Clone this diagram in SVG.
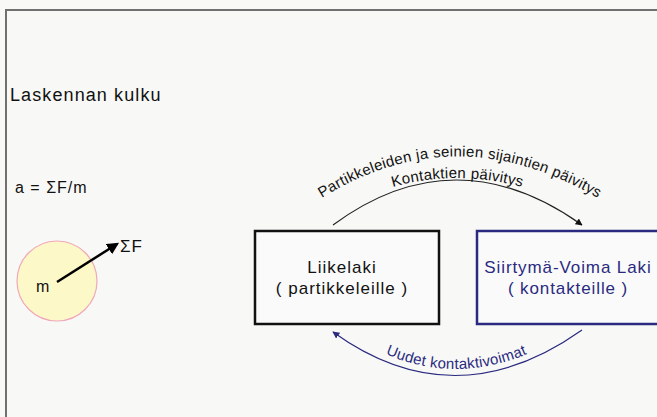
<svg xmlns="http://www.w3.org/2000/svg" width="657" height="417" viewBox="0 0 657 417">
<defs>
<style>
text{font-family:"Comic Sans MS","Liberation Sans","DejaVu Sans",sans-serif;}
.t{font-size:17px;fill:#111;letter-spacing:1px;}
.b{font-size:17px;fill:#2a2a80;letter-spacing:0.9px;}
.lbl{font-size:15px;fill:#111;letter-spacing:0.3px;}
.lblb{font-size:15px;fill:#2a2a80;letter-spacing:0.3px;}
</style>
<marker id="ah" viewBox="0 0 10 10" refX="9" refY="5" markerWidth="7" markerHeight="7" orient="auto" markerUnits="userSpaceOnUse"><path d="M0,0 L10,5 L0,10 z" fill="#111"/></marker>
<marker id="ahb" viewBox="0 0 10 10" refX="9" refY="5" markerWidth="7" markerHeight="7" orient="auto" markerUnits="userSpaceOnUse"><path d="M0,0 L10,5 L0,10 z" fill="#2a2a80"/></marker>
<marker id="ah2" viewBox="0 0 10 10" refX="8" refY="5" markerWidth="12" markerHeight="12" orient="auto" markerUnits="userSpaceOnUse"><path d="M0,0 L10,5 L0,10 z" fill="#000"/></marker>
<path id="p1" d="M314,203 Q455,110 606,203"/>
<path id="p2" d="M383,190 Q455,166 532,190"/>
<path id="p3" d="M381,352 Q455,386 532,352"/>
</defs>
<rect width="657" height="417" fill="#f8f8f6"/>
<path d="M6,417 V10 H657" fill="none" stroke="#707070" stroke-width="2"/>
<text x="10" y="101" style="font-size:18px;fill:#111;letter-spacing:1.1px">Laskennan kulku</text>
<text x="15" y="193" style="font-size:16px;fill:#111;letter-spacing:1px">a = ΣF/m</text>
<g id="mass">
<circle cx="57" cy="281" r="40" fill="#fdf8c8" stroke="#f0a8b8" stroke-width="1.2"/>
<text x="36" y="292" style="font-size:16px;fill:#111">m</text>
<line x1="57" y1="282" x2="117" y2="244" stroke="#000" stroke-width="2.5" marker-end="url(#ah2)"/>
<text x="120" y="252" style="font-size:17px;fill:#111;letter-spacing:1px">ΣF</text>
</g>
<g id="liikelaki">
<rect x="255" y="231" width="184" height="93" fill="#fafafa" stroke="#111" stroke-width="2.5"/>
<text class="t" x="342" y="273" text-anchor="middle">Liikelaki</text>
<text class="t" x="342" y="294" text-anchor="middle">( partikkeleille )</text>
</g>
<g id="siirtyma">
<rect x="477" y="231" width="190" height="93" fill="#fafafa" stroke="#2a2a80" stroke-width="2.5"/>
<text class="b" x="568" y="273" text-anchor="middle">Siirtymä-Voima Laki</text>
<text class="b" x="568" y="294" text-anchor="middle">( kontakteille )</text>
</g>
<g id="connectors">
<path d="M333,225 Q455,135 582,225" fill="none" stroke="#222" stroke-width="1.2" marker-end="url(#ah)"/>
<path d="M582,330 Q455,420 333,332" fill="none" stroke="#2a2a80" stroke-width="1.2" marker-end="url(#ahb)"/>
<text class="lbl"><textPath href="#p1" startOffset="50%" text-anchor="middle">Partikkeleiden ja seinien sijaintien päivitys</textPath></text>
<text class="lbl"><textPath href="#p2" startOffset="50%" text-anchor="middle">Kontaktien päivitys</textPath></text>
<text class="lblb"><textPath href="#p3" startOffset="50%" text-anchor="middle">Uudet kontaktivoimat</textPath></text>
</g>
</svg>
